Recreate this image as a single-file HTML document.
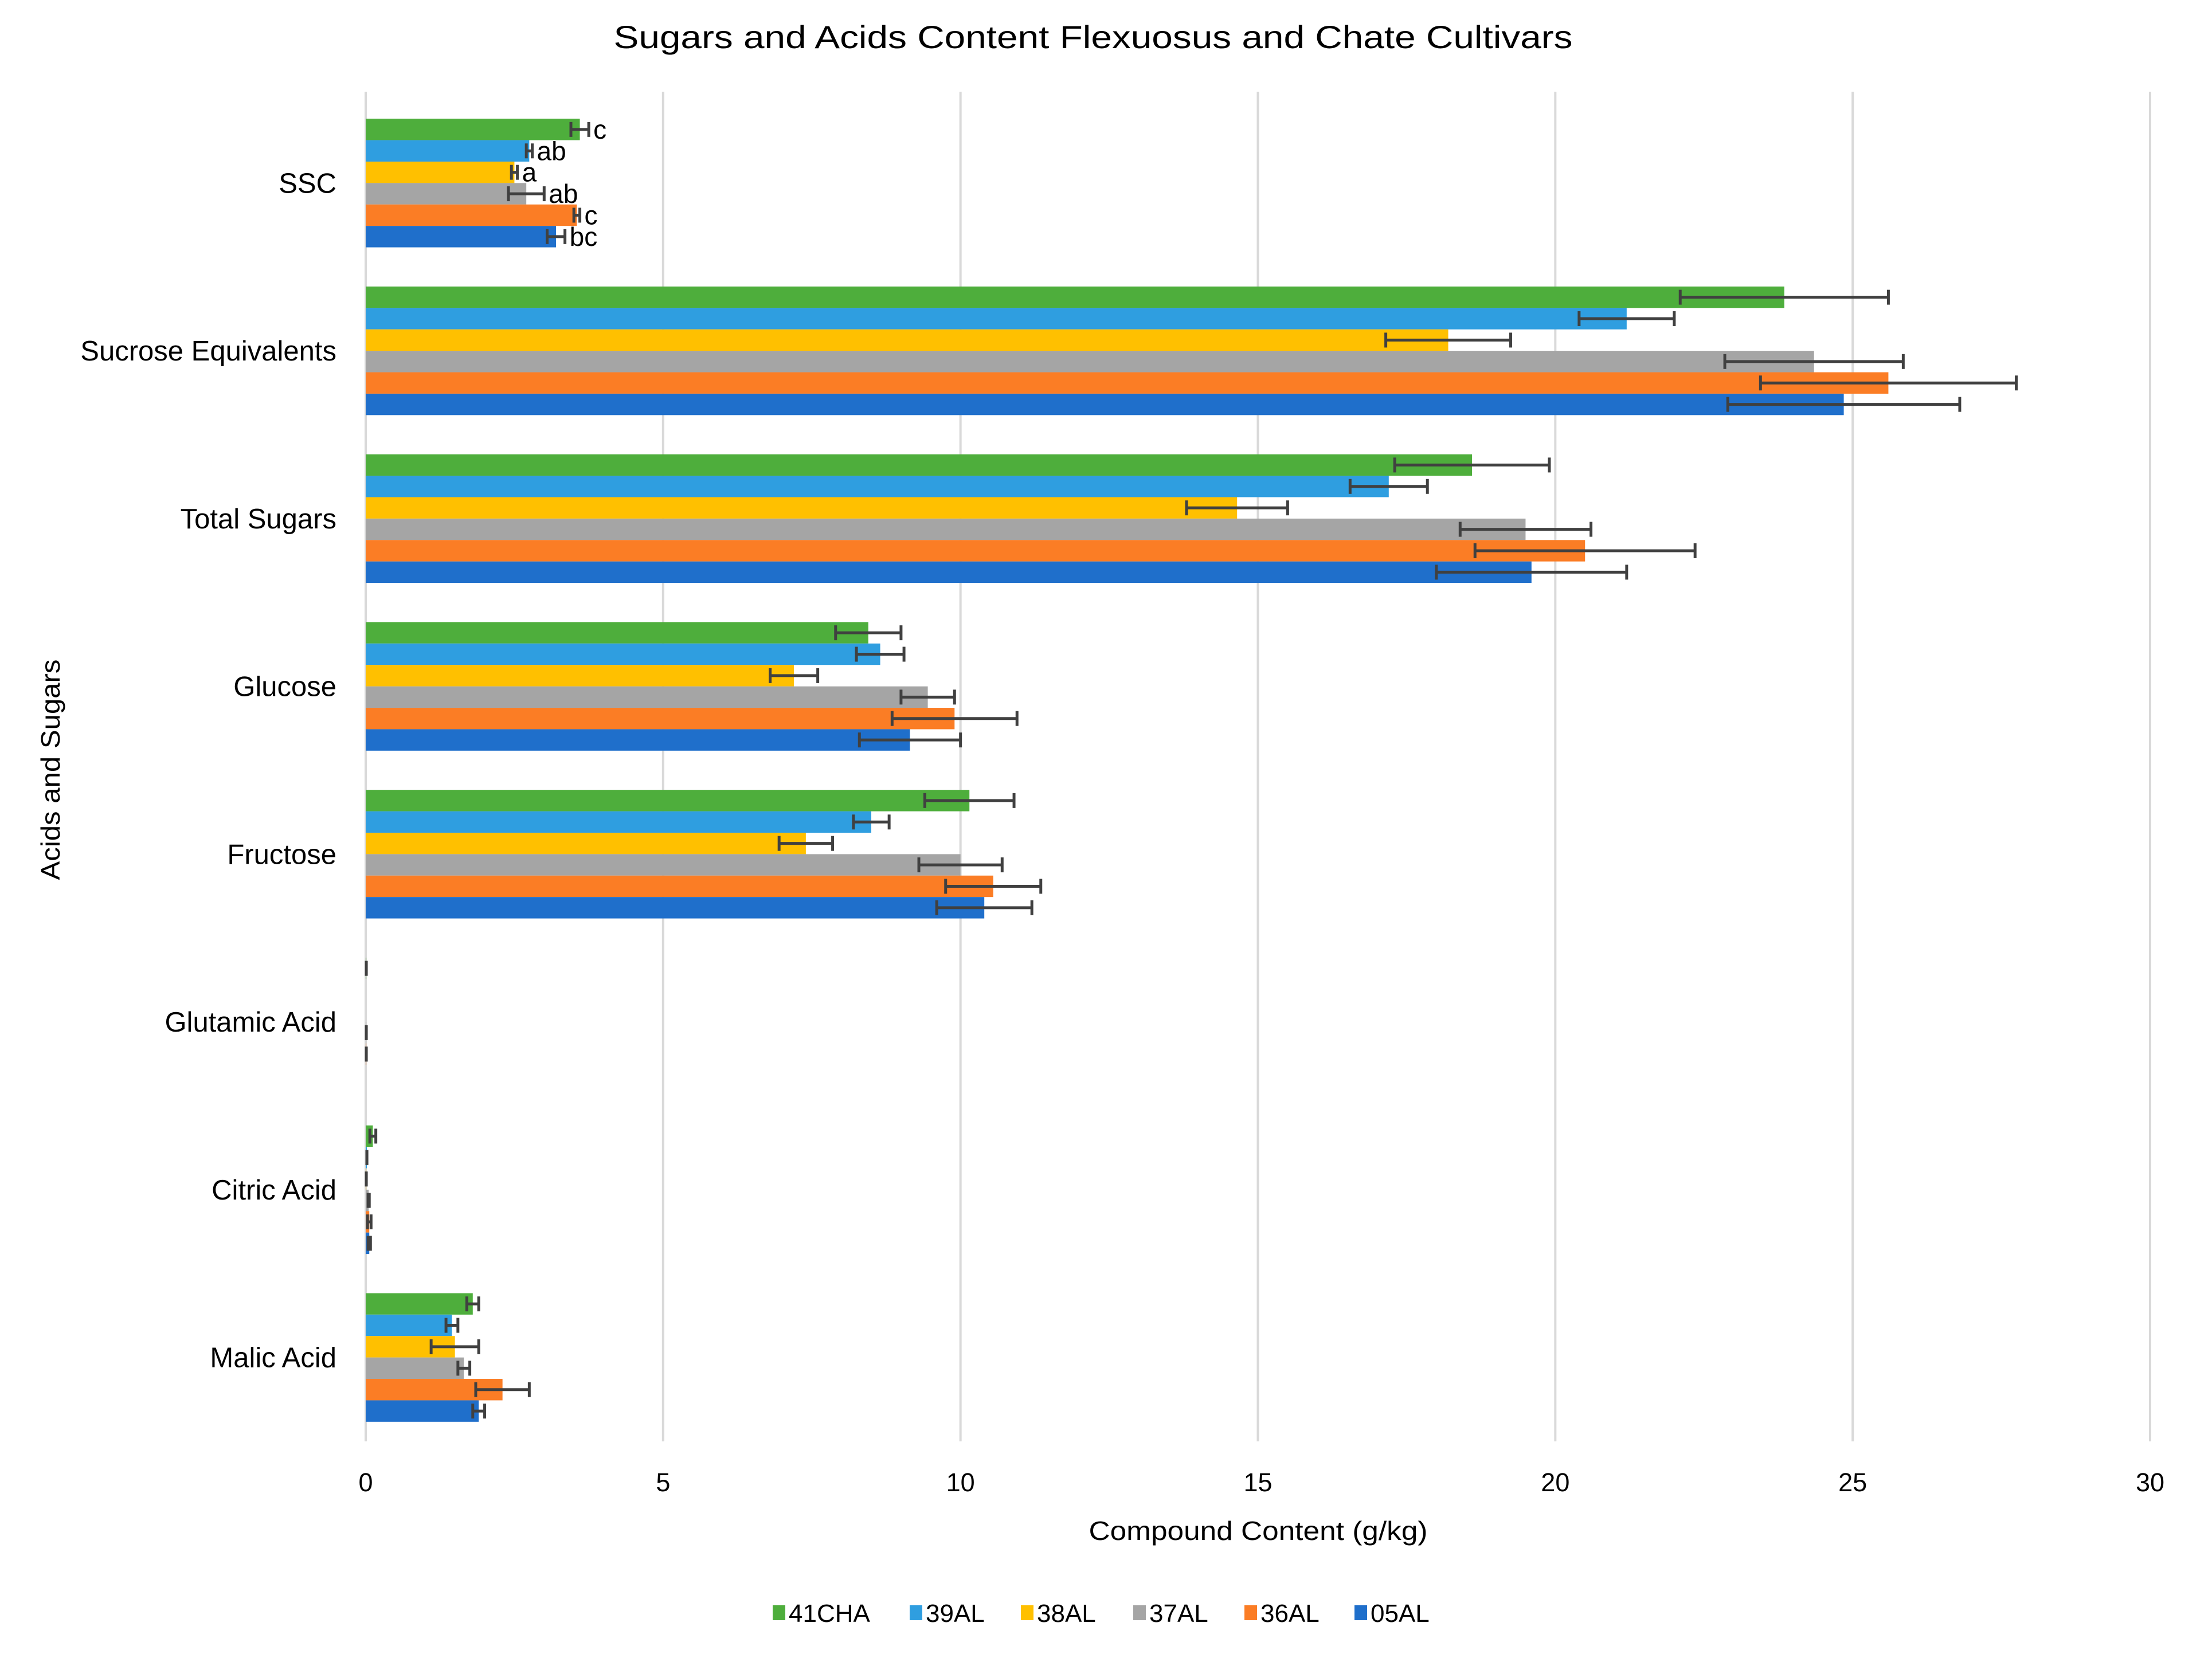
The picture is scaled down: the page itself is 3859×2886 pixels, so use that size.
<!DOCTYPE html>
<html><head><meta charset="utf-8">
<style>
html,body{margin:0;padding:0;background:#fff;}
svg{display:block;font-family:"Liberation Sans",sans-serif;}
</style></head>
<body>
<svg id="chart" width="3859" height="2886" viewBox="0 0 3859 2886" xmlns="http://www.w3.org/2000/svg">
<rect width="3859" height="2886" fill="#fff"/>
<text x="1907" y="84" font-size="56" text-anchor="middle" textLength="1673" lengthAdjust="spacingAndGlyphs" fill="#000">Sugars and Acids Content Flexuosus and Chate Cultivars</text>
<g id="grid"></g>
<g id="bars"></g>
<g id="xticks"></g>
<g id="ycats"></g>
<text x="2195" y="2687" font-size="46" text-anchor="middle" textLength="591" lengthAdjust="spacingAndGlyphs" fill="#000">Compound Content (g/kg)</text>
<text transform="translate(104,1343) rotate(-90)" font-size="46" text-anchor="middle" textLength="385" lengthAdjust="spacingAndGlyphs" fill="#000">Acids and Sugars</text>
<g id="legend"></g>
</svg>
<script>
const categories = ["SSC","Sucrose Equivalents","Total Sugars","Glucose","Fructose","Glutamic Acid","Citric Acid","Malic Acid"];
const seriesNames = ["41CHA","39AL","38AL","37AL","36AL","05AL"];
const seriesColors = ["#4EAE3C","#2F9EE0","#FFC000","#A5A5A5","#FB7D25","#1F6FCB"];
const v41CHA = [3.6,23.85,18.6,8.45,10.15,0.01,0.12,1.8];
const e41CHA = [0.15,1.75,1.3,0.55,0.75,0.0,0.05,0.1];
const v39AL = [2.75,21.2,17.2,8.65,8.5,0.0,0.02,1.45];
const e39AL = [0.05,0.8,0.65,0.4,0.3,0.0,0.0,0.1];
const v38AL = [2.5,18.2,14.65,7.2,7.4,0.0,0.01,1.5];
const e38AL = [0.05,1.05,0.85,0.4,0.45,0.0,0.0,0.4];
const v37AL = [2.7,24.35,19.5,9.45,10.0,0.01,0.05,1.65];
const e37AL = [0.3,1.5,1.1,0.45,0.7,0.0,0.01,0.1];
const v36AL = [3.55,25.6,20.5,9.9,10.55,0.01,0.06,2.3];
const e36AL = [0.05,2.15,1.85,1.05,0.8,0.0,0.03,0.45];
const v05AL = [3.2,24.85,19.6,9.15,10.4,0.0,0.06,1.9];
const e05AL = [0.15,1.95,1.6,0.85,0.8,0.0,0.02,0.1];
const sscLetters = ["c","ab","a","ab","c","bc"];
const xTicks = [0,5,10,15,20,25,30];

const values = [v41CHA,v39AL,v38AL,v37AL,v36AL,v05AL];
const errors = [e41CHA,e39AL,e38AL,e37AL,e36AL,e05AL];
const NS="http://www.w3.org/2000/svg";
const X0=638, X1=3751, XMAX=30, YT=173, YB=2515;
const band=(YB-YT)/categories.length, barH=37.4;
const xs=v=>X0+(v/XMAX)*(X1-X0);
const yBar=(c,s)=>YT+c*band+(band-6*barH)/2+s*barH;
function mk(tag,attrs,parent){const e=document.createElementNS(NS,tag);for(const k in attrs)e.setAttribute(k,attrs[k]);parent.appendChild(e);return e;}
const grid=document.getElementById('grid'), bars=document.getElementById('bars'), xt=document.getElementById('xticks'), yc=document.getElementById('ycats'), lg=document.getElementById('legend');
xTicks.forEach(t=>{
  const l=mk('line',{x1:xs(t),x2:xs(t),y1:YT-13,y2:YB,stroke:'#d9d9d9','stroke-width':4},grid);
  
  
  const tx=mk('text',{x:xs(t),y:2602,'font-size':45,'text-anchor':'middle',fill:'#000'},xt);
  tx.textContent=t;
  
  
});
categories.forEach((c,ci)=>{
  const t=mk('text',{x:587,y:YT+ci*band+band/2+17,'font-size':49,'text-anchor':'end',fill:'#000'},yc);
  t.textContent=c;
  
  
  values.forEach((arr,si)=>{
    const y=yBar(ci,si), v=arr[ci], e=errors[si][ci];
    const r=mk('rect',{x:X0,y:y,width:Math.max(0,xs(v)-X0),height:barH,fill:seriesColors[si]},bars);
    
    
    if(v===0 && e===0) return;
    const yc2=y+barH/2, xl=xs(Math.max(0,v-e)), xr=xs(v+e);
    const g=mk('g',{stroke:'#404040','stroke-width':5},bars);
    
    
    mk('line',{x1:xl,x2:xr,y1:yc2,y2:yc2},g);
    mk('line',{x1:xl,x2:xl,y1:yc2-13,y2:yc2+13},g);
    mk('line',{x1:xr,x2:xr,y1:yc2-13,y2:yc2+13},g);
    if(ci===0){
      const lt=mk('text',{x:xr+8,y:yc2+16,'font-size':46,fill:'#000'},bars);
      lt.textContent=sscLetters[si];
      
      
    }
  });
});
const legX=[1348,1587,1781,1977,2171,2363];
seriesNames.forEach((n,i)=>{
  const g=mk('g',{},lg);
  
  
  mk('rect',{x:legX[i],y:2801,width:22,height:26,fill:seriesColors[i]},g);
  const t=mk('text',{x:legX[i]+28,y:2830,'font-size':44,fill:'#000'},g);
  t.textContent=n;
});
</script>
</body></html>
